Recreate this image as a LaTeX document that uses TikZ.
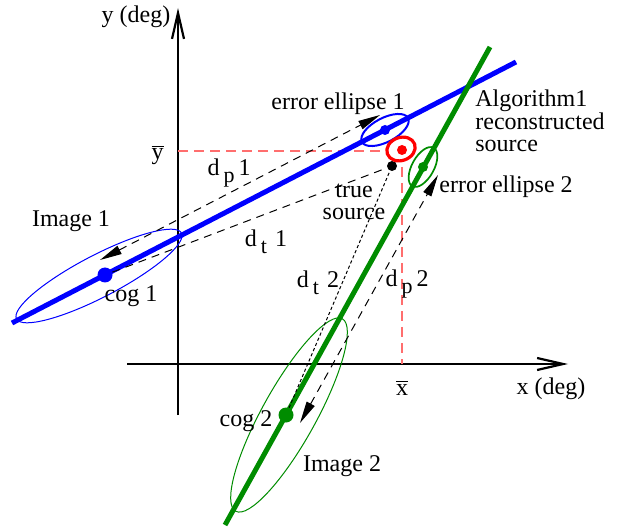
\documentclass[tikz,border=0pt]{standalone}
\usepackage{fontspec}
\setmainfont{Liberation Serif}
\usetikzlibrary{shapes.geometric, arrows.meta, positioning}
\usepackage{xcolor}
\definecolor{fitblue}{RGB}{0,0,255}
\definecolor{fitgreen}{RGB}{0,140,0}
\definecolor{recored}{RGB}{255,0,0}
\definecolor{guidered}{RGB}{255,110,110}
\newcommand{\barlbl}[1]{$\overline{\mbox{#1}}$}
\newcommand{\dlbl}[2]{d\,\raisebox{-3.5pt}{\fontsize{11}{10}\selectfont #1}\,#2}

\begin{document}
\begin{tikzpicture}[
    x = 0.5pt, y = -0.5pt,
    lbl/.style     = {font=\fontsize{12}{11.3}\selectfont, inner sep=0pt},
    axis/.style    = {-{Straight Barb[length=13pt,width=6pt]}, line width=1.1pt},
    fitline/.style = {line width=2.5pt},
    dot/.style     = {circle, fill, inner sep=0pt, minimum size=5pt},
    cog/.style     = {dot, minimum size=7.5pt},
    ell/.style     = {ellipse, draw, inner sep=0pt},
    guide/.style   = {guidered, line width=0.6pt, dash pattern=on 5pt off 3pt},
    dist/.style    = {line width=0.5pt, dash pattern=on 4pt off 3pt},
    fine/.style    = {line width=0.5pt, dash pattern=on 1.6pt off 1.2pt},
    both/.style    = {dist, {Triangle[length=11pt,width=4.5pt]}-{Triangle[length=11pt,width=4.5pt]}},
]
\useasboundingbox (0,0) rectangle (619,528);

% ── Axes ────────────────────────────────────────────────────────
\coordinate (xmin) at (127,364);
\coordinate (xmax) at (568,364);
\coordinate (ymin) at (178,415);
\coordinate (ymax) at (178,8);
\draw[axis] (xmin) -- (xmax);
\draw[axis] (ymin) -- (ymax);

% ── Guide lines to the reconstructed source ─────────────────────
\coordinate (ybar) at (178,151);
\coordinate (xbar) at (402,364);
\draw[guide] (ybar) -| (xbar);

% ── Image ellipses ──────────────────────────────────────────────
\node[ell, draw=fitblue, line width=0.5pt, minimum width=93pt,
      minimum height=21pt, rotate=27.5] (img1) at (99,276) {};
\node[ell, draw=fitgreen, line width=0.5pt, minimum width=110pt,
      minimum height=27pt, rotate=61] (img2) at (289,415) {};

% ── Fitted lines ────────────────────────────────────────────────
\coordinate (b0) at (12,323);
\coordinate (b1) at (516,62);
\coordinate (g0) at (225,525);
\coordinate (g1) at (490,47);
\draw[fitline, fitblue] (b0) -- (b1);
\draw[fitline, fitgreen] (g0) -- (g1);

% ── Points ──────────────────────────────────────────────────────
\node[cog, fill=fitblue] (cog1) at (105,275) {};
\node[cog, fill=fitgreen] (cog2) at (286,415) {};
\node[dot, fill=black] (truesrc) at (392,166) {};

% ── Distances ───────────────────────────────────────────────────
\coordinate (p1a) at (100,260);
\coordinate (p1b) at (380,115);
\coordinate (p2a) at (300,423);
\coordinate (p2b) at (438,175);
\draw[both] (p1a) -- (p1b);
\draw[dist] (cog1) -- (truesrc);
\draw[fine] (cog2) -- (truesrc);
\draw[both] (p2a) -- (p2b);

% ── Error ellipses ──────────────────────────────────────────────
\node[ell, draw=fitblue, line width=1pt, minimum width=26pt,
      minimum height=12pt, rotate=27.5] (err1) at (385,130) {};
\node[ell, draw=fitgreen, line width=0.85pt, minimum width=22pt,
      minimum height=11pt, rotate=61] (err2) at (423,167) {};
\node[ell, draw=recored, fill=white, line width=1.6pt, minimum width=14.5pt,
      minimum height=11.5pt, rotate=20] (recoell) at (401,149) {};
\node[dot, fill=fitblue] (err1dot) at (385,130) {};
\node[dot, fill=fitgreen] (err2dot) at (423,167) {};
\node[dot, fill=recored] (reco) at (402,150) {};

% ── Labels ──────────────────────────────────────────────────────
\node[lbl] (ylbl) at (136,17) {y (deg)};
\node[lbl] (xlbl) at (551,389) {x (deg)};
\node[lbl, left=7pt of ybar, yshift=-2pt] (ybarlbl) {\barlbl{y}};
\node[lbl, below=8pt of xbar] (xbarlbl) {\barlbl{x}};
\node[lbl] (err1lbl) at (338,104) {error ellipse 1};
\node[lbl, align=left, anchor=west] (algolbl) at (475,121)
    {Algorithm1\\reconstructed\\source};
\node[lbl] (err2lbl) at (506,187) {error ellipse 2};
\node[lbl, align=center] (truelbl) at (354,202) {true\\source};
\node[lbl] (dp1lbl) at (229,173) {\dlbl{p}{1}};
\node[lbl] (dt1lbl) at (266,242) {\dlbl{t}{\,1}};
\node[lbl] (dt2lbl) at (318,283) {\dlbl{t}{\,2}};
\node[lbl] (dp2lbl) at (407,284) {\dlbl{p}{2}};
\node[lbl] (img1lbl) at (71,221) {Image 1};
\node[lbl] (cog1lbl) at (131,296) {cog 1};
\node[lbl] (cog2lbl) at (246,421) {cog 2};
\node[lbl] (img2lbl) at (342,466) {Image 2};

\end{tikzpicture}
\end{document}
